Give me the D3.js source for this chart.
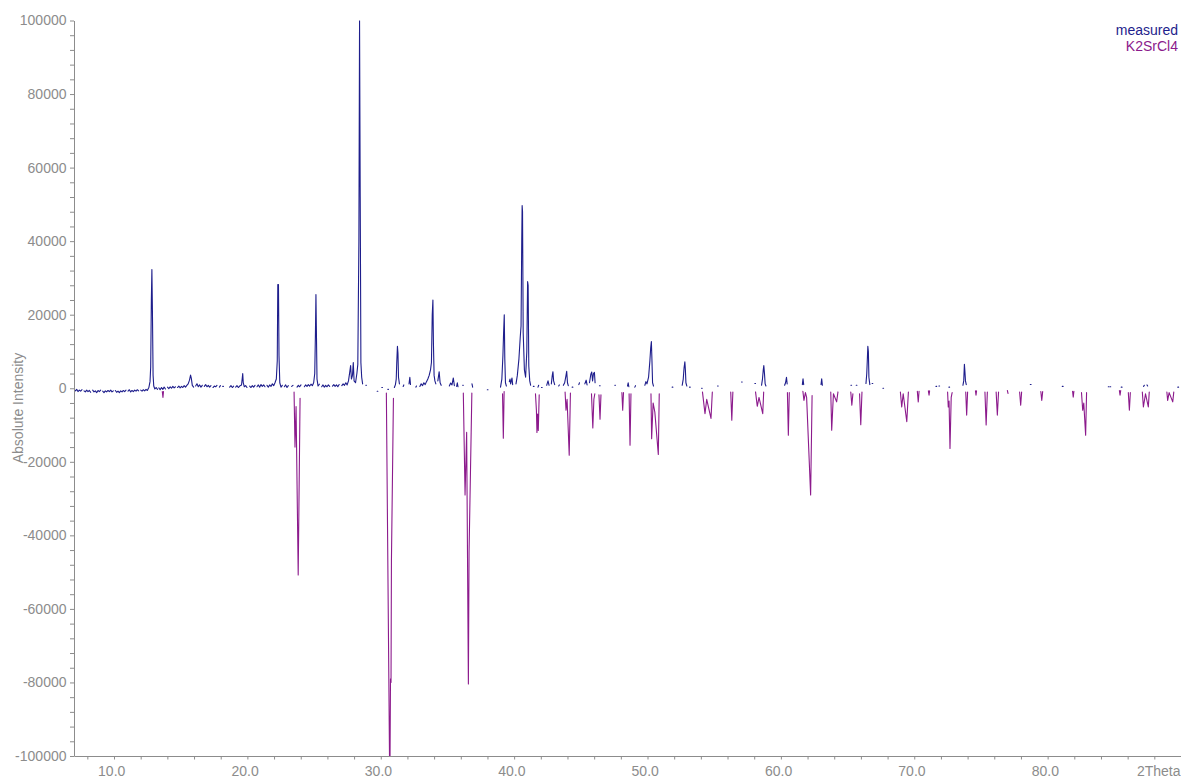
<!DOCTYPE html>
<html>
<head>
<meta charset="utf-8">
<script src="https://cdn.jsdelivr.net/npm/d3@7"></script>
<style>
  html, body { margin: 0; padding: 0; background: #ffffff; }
  svg { display: block; font-family: "Liberation Sans", Arial, sans-serif; }
</style>
</head>
<body>
<svg id="chart" width="1181" height="778"></svg>
<script>
// Powder pattern: measured scan (positive) and K2SrCl4 reference (drawn negative).
// Each series is a list of continuous runs of [2theta, intensity] points.

const seriesNames = ["measured", "K2SrCl4"];
const seriesColors = ["#1e1e8c", "#8c1a8c"];

const measuredRuns = [
  [[7.0,-400],[7.1,-700],[7.2,-300],[7.3,-900],[7.4,-500],[7.5,-800],[7.6,-400]],
  [[7.75,-700],[7.85,-1000],[7.95,-500],[8.05,-900],[8.15,-600],[8.25,-1100]],
  [[8.4,-500],[8.5,-1000],[8.6,-700],[8.7,-1200],[8.8,-600],[8.9,-900],[9.0,-500]],
  [[9.15,-800],[9.25,-1200],[9.35,-700],[9.45,-1000],[9.55,-600],[9.65,-900],[9.75,-500],[9.85,-1000],[9.95,-700]],
  [[10.1,-600],[10.2,-1100],[10.3,-800],[10.4,-1200],[10.5,-700],[10.6,-1000],[10.7,-600],[10.8,-900],[10.9,-500]],
  [[11.05,-800],[11.15,-400],[11.25,-1000],[11.35,-600],[11.45,-900],[11.55,-500],[11.65,-800],[11.75,-400],[11.85,-700]],
  [[12.0,-500],[12.1,-800],[12.2,-400],[12.3,-700],[12.4,-300],[12.5,-600],[12.62,300],[12.7,1800],[12.75,5800],[12.8,24000],[12.84,32300],[12.88,21000],[12.93,3500],[12.98,600],[13.06,-200],[13.16,200],[13.26,-300]],
  [[13.36,100],[13.46,-400],[13.56,200],[13.66,-300],[13.76,300],[13.86,-200]],
  [[14.01,300],[14.11,-100],[14.21,400],[14.31,0],[14.41,500],[14.51,100],[14.61,400]],
  [[14.76,200],[14.86,600],[14.96,100],[15.06,500],[15.16,200],[15.26,700],[15.36,300],[15.46,800],[15.56,1200],[15.66,2200],[15.74,3600],[15.8,2600],[15.87,800],[15.97,300]],
  [[16.12,600],[16.22,1200],[16.32,400],[16.42,900],[16.52,300],[16.62,800]],
  [[16.77,500],[16.87,1000],[16.97,400],[17.07,800],[17.17,300],[17.27,700]],
  [[17.42,200],[17.52,600],[17.62,400],[17.72,800]],
  [[17.9,300],[17.98,700]],
  [[18.15,500],[18.2,500]],
  [[18.67,300],[18.77,700],[18.87,200],[18.97,600]],
  [[19.12,300],[19.22,700],[19.32,200],[19.42,600],[19.56,900],[19.61,2600],[19.65,4000],[19.69,1500],[19.77,400],[19.87,700],[19.97,200]],
  [[20.17,600],[20.27,200],[20.37,700],[20.47,300],[20.57,800]],
  [[20.72,400],[20.82,900],[20.92,300],[21.02,1000],[21.12,500],[21.22,900],[21.32,400]],
  [[21.47,800],[21.57,300],[21.67,900],[21.77,500],[21.87,1200],[21.97,700],[22.07,1500],[22.17,2500],[22.24,7500],[22.28,28200],[22.33,28200],[22.37,9000],[22.43,1500],[22.52,300],[22.62,800]],
  [[22.77,400],[22.87,900],[22.97,200],[23.07,700]],
  [[23.32,500],[23.42,800]],
  [[23.72,300],[23.82,800],[23.92,400],[24.02,900]],
  [[24.27,400],[24.37,900],[24.47,500],[24.57,1000],[24.67,600],[24.77,1100],[24.87,700],[24.97,1500],[25.05,4000],[25.1,14500],[25.14,25500],[25.17,17000],[25.22,2500],[25.3,600],[25.4,1100]],
  [[25.57,400],[25.67,900],[25.77,300],[25.87,800],[25.97,400],[26.07,900],[26.17,500]],
  [[26.38,600],[26.48,1000],[26.58,500],[26.68,900],[26.78,400],[26.88,1000]],
  [[27.08,700],[27.18,1200],[27.28,800],[27.38,1500],[27.48,900],[27.58,2000],[27.68,4500],[27.74,6200],[27.8,2500],[27.88,3500],[27.94,7000],[28.0,2000],[28.11,1500],[28.21,4000],[28.28,6500],[28.36,40000],[28.41,100000],[28.46,52000],[28.51,7000],[28.57,3000],[28.64,1200]],
  [[28.88,800],[28.93,800]],
  [[29.73,-800],[29.78,-800]],
  [[30.08,200],[30.13,200]],
  [[30.53,-300],[30.58,-300]],
  [[31.02,200],[31.1,1000],[31.16,2500],[31.2,7000],[31.25,11400],[31.29,9500],[31.33,3000],[31.4,1200]],
  [[31.68,500],[31.73,900]],
  [[32.12,1200],[32.18,3000],[32.23,1000]],
  [[32.63,300],[32.68,600]],
  [[32.93,500],[33.03,1200],[33.13,700],[33.23,1500],[33.33,1000],[33.43,1800],[33.53,2500],[33.63,3500],[33.73,5000],[33.8,7000],[33.86,20000],[33.91,24000],[33.95,12000],[34.0,3500],[34.06,2000],[34.13,1200]],
  [[34.28,2000],[34.38,4500],[34.45,1500],[34.53,800]],
  [[35.14,600],[35.24,1400],[35.34,900],[35.44,2800],[35.52,700]],
  [[35.69,500],[35.74,1500],[35.79,400]],
  [[36.14,800],[36.19,800]],
  [[36.84,1200],[36.89,300]],
  [[37.99,-400],[38.04,-400]],
  [[38.98,300],[39.08,2500],[39.16,9000],[39.21,15000],[39.26,20000],[39.3,8000],[39.35,1500],[39.42,600]],
  [[39.64,1800],[39.69,2500],[39.74,1200],[39.84,2800],[39.89,1000]],
  [[40.14,1200],[40.24,3500],[40.36,8000],[40.46,14000],[40.52,17000],[40.57,40000],[40.6,49700],[40.63,48000],[40.68,15000],[40.77,5000],[40.86,3000],[40.95,10000],[41.01,29000],[41.05,28000],[41.1,6000],[41.17,2000],[41.24,800]],
  [[41.44,500],[41.49,500]],
  [[41.79,300],[41.84,800]],
  [[42.05,200],[42.1,200]],
  [[42.44,800],[42.54,2000],[42.62,800]],
  [[42.79,1200],[42.86,3500],[42.91,4500],[42.96,2000],[43.04,1000]],
  [[43.34,600],[43.39,900]],
  [[43.69,800],[43.79,1500],[43.89,3500],[43.94,4600],[44.0,1500],[44.06,700]],
  [[44.35,300],[44.4,300]],
  [[44.85,1000],[44.9,1500]],
  [[45.3,1200],[45.4,2200],[45.47,900]],
  [[45.65,1500],[45.75,3800],[45.82,4400],[45.88,2000],[45.95,4000],[46.02,4300],[46.07,1500]],
  [[46.4,700],[46.45,700]],
  [[47.55,800],[47.6,800]],
  [[48.5,600],[48.55,1500],[48.6,400]],
  [[49.05,300],[49.1,700]],
  [[49.8,800],[49.88,1800],[49.96,1200],[50.08,3000],[50.18,7500],[50.24,11000],[50.29,12700],[50.33,8000],[50.38,1500],[50.45,600]],
  [[51.85,300],[51.9,300]],
  [[52.6,800],[52.68,2500],[52.74,5500],[52.8,7200],[52.84,5000],[52.88,1500],[52.95,600]],
  [[53.15,300],[53.2,300]],
  [[54.05,0],[54.1,0]],
  [[55.25,600],[55.3,600]],
  [[57.05,1700],[57.1,1700]],
  [[58.05,1300],[58.1,1300]],
  [[58.55,800],[58.62,2500],[58.68,5000],[58.72,6200],[58.77,4000],[58.82,1200],[58.88,600]],
  [[60.28,800],[60.35,1500],[60.42,3000],[60.47,1200]],
  [[61.61,1000],[61.66,2600],[61.71,1000]],
  [[63.01,1000],[63.06,2600],[63.11,800]],
  [[65.25,800],[65.3,800]],
  [[65.65,800],[65.7,800]],
  [[66.38,1300],[66.44,4000],[66.48,7600],[66.52,11400],[66.56,10000],[66.6,3000],[66.67,1000]],
  [[66.84,1300],[66.89,1300]],
  [[67.65,0],[67.7,0]],
  [[71.63,500],[71.68,500]],
  [[71.85,600],[71.9,600]],
  [[72.6,300],[72.65,300]],
  [[73.65,800],[73.71,2000],[73.76,6500],[73.8,4500],[73.84,2000],[73.9,1000]],
  [[78.7,1000],[78.76,1000]],
  [[81.1,500],[81.16,500]],
  [[84.55,400],[84.6,400]],
  [[84.68,400],[84.73,400]],
  [[85.52,300],[85.58,300]],
  [[87.19,500],[87.25,800]],
  [[87.45,900],[87.5,600]],
  [[89.76,300],[89.82,300]]
];

const referenceRuns = [
  [[13.62,-900],[13.67,-2500],[13.71,-900]],
  [[23.5,-1000],[23.57,-16000],[23.65,-5000],[23.81,-50800],[23.95,-2700]],
  [[30.42,-1300],[30.68,-110000],[30.73,-79000],[30.77,-80000],[30.8,-47000],[30.95,-2700]],
  [[36.19,-1300],[36.32,-29000],[36.44,-12000],[36.57,-80400],[36.62,-44600],[36.83,-1300]],
  [[39.13,-1500],[39.19,-13600],[39.25,-900]],
  [[41.6,-1500],[41.67,-6000],[41.71,-12000],[41.76,-7000],[41.81,-11500],[41.88,-1800]],
  [[43.82,-1000],[43.89,-6000],[43.97,-3000],[44.13,-18200],[44.22,-1300]],
  [[45.8,-1500],[45.9,-10800],[45.98,-3000],[46.05,-1500]],
  [[46.36,-1800],[46.44,-8400],[46.51,-1800]],
  [[48.08,-1200],[48.14,-6000],[48.2,-1200]],
  [[48.62,-1500],[48.69,-15500],[48.76,-1500]],
  [[50.26,-1500],[50.31,-13700],[50.42,-4000],[50.55,-6500],[50.81,-18000],[50.88,-1500]],
  [[54.12,-1000],[54.31,-6900],[54.44,-3000],[54.76,-8200],[54.86,-1000]],
  [[56.24,-1000],[56.32,-8700],[56.4,-1000]],
  [[58.1,-1000],[58.23,-4900],[58.36,-2500],[58.64,-6900],[58.71,-1000]],
  [[60.49,-1200],[60.56,-12800],[60.63,-1200]],
  [[61.65,-800],[61.73,-3300],[61.84,-1200],[61.93,-2500],[62.23,-29000],[62.34,-2000]],
  [[63.74,-1000],[63.81,-11400],[63.94,-1500],[64.18,-3700],[64.28,-1000]],
  [[65.24,-1000],[65.32,-4600],[65.4,-1500]],
  [[65.9,-1500],[65.99,-9900],[66.08,-1000]],
  [[68.96,-1000],[69.06,-5100],[69.17,-1500],[69.44,-9100],[69.56,-1000]],
  [[70.23,-800],[70.3,-3700],[70.36,-800]],
  [[71.06,-700],[71.11,-1900],[71.15,-700]],
  [[72.5,-1000],[72.55,-5100],[72.61,-3500],[72.68,-16400],[72.77,-2500],[72.84,-1200]],
  [[73.86,-1000],[73.93,-7300],[74.0,-1000]],
  [[74.59,-700],[74.63,-1900],[74.67,-700]],
  [[75.3,-1000],[75.39,-10000],[75.48,-1000]],
  [[76.14,-1000],[76.23,-7300],[76.32,-1000]],
  [[76.98,-600],[77.03,-1400]],
  [[77.9,-1000],[77.98,-4600],[78.05,-1000]],
  [[79.49,-900],[79.56,-3300],[79.63,-900]],
  [[81.87,-800],[81.92,-2400],[81.97,-800]],
  [[82.54,-1200],[82.63,-6000],[82.71,-4000],[82.85,-12800],[82.92,-1200]],
  [[85.38,-600],[85.43,-1900],[85.48,-600]],
  [[86.05,-1200],[86.13,-6000],[86.2,-1200]],
  [[87.1,-1000],[87.18,-5100],[87.34,-1500],[87.55,-5100],[87.62,-1000]],
  [[88.94,-1000],[89.0,-3300],[89.11,-1200],[89.38,-3700],[89.46,-1000]]
];

const xDomain = [7, 90];
const yDomain = [-100000, 100000];
const xMinorTicks = d3.range(8, 90.01, 2);
const xLabelTicks = [10, 20, 30, 40, 50, 60, 70, 80];
const yMinorTicks = d3.range(-100000, 100001, 4000);
const xAxisTitle = "2Theta";
const yAxisTitle = "Absolute Intensity";

const svg = d3.select("#chart");
const plot = { left: 74, right: 1181, top: 20.5, bottom: 756 };
const axisColor = "#8c8c8c";

const x = d3.scaleLinear().domain(xDomain).range([plot.left, plot.right]);
const y = d3.scaleLinear().domain(yDomain).range([plot.bottom, plot.top]);

svg.append("defs").append("clipPath").attr("id", "plot-clip")
  .append("rect")
  .attr("x", plot.left).attr("y", plot.top)
  .attr("width", plot.right - plot.left).attr("height", plot.bottom - plot.top);

// Traces
const line = d3.line().x(d => x(d[0])).y(d => y(d[1]));
const traces = svg.append("g").attr("clip-path", "url(#plot-clip)");

[measuredRuns, referenceRuns].forEach((runs, i) => {
  traces.append("g")
    .selectAll("path")
    .data(runs)
    .join("path")
    .attr("d", line)
    .attr("fill", "none")
    .attr("stroke", seriesColors[i])
    .attr("stroke-width", 1.1)
    .attr("stroke-linejoin", "round")
    .attr("stroke-linecap", "round");
});

// Y axis
const yAxis = svg.append("g")
  .attr("transform", `translate(${plot.left},0)`)
  .call(d3.axisLeft(y)
    .tickValues(yMinorTicks)
    .tickSize(4)
    .tickSizeOuter(0)
    .tickFormat(d => (d % 20000 === 0 ? String(d) : "")));
yAxis.select(".domain").attr("stroke", axisColor);
yAxis.selectAll(".tick line").attr("stroke", axisColor);
yAxis.selectAll(".tick text")
  .attr("fill", axisColor)
  .attr("font-size", 14)
  .attr("font-family", "Liberation Sans, Arial, sans-serif")
  .attr("x", -7.5);

// X axis
const xAxis = svg.append("g")
  .attr("transform", `translate(0,${plot.bottom})`)
  .call(d3.axisBottom(x)
    .tickValues(xMinorTicks)
    .tickSize(3.5)
    .tickSizeOuter(0)
    .tickFormat(""));
xAxis.select(".domain").attr("stroke", axisColor);
xAxis.selectAll(".tick line").attr("stroke", axisColor);

svg.append("g")
  .selectAll("text")
  .data(xLabelTicks)
  .join("text")
  .attr("x", d => x(d) - 2.3)
  .attr("y", 775.5)
  .attr("text-anchor", "middle")
  .attr("fill", axisColor)
  .attr("font-size", 14)
  .text(d => d.toFixed(1));

svg.append("text")
  .attr("x", 1180.5)
  .attr("y", 775.5)
  .attr("text-anchor", "end")
  .attr("fill", axisColor)
  .attr("font-size", 14)
  .text(xAxisTitle);

svg.append("text")
  .attr("transform", `translate(23,408) rotate(-90)`)
  .attr("text-anchor", "middle")
  .attr("fill", axisColor)
  .attr("font-size", 14)
  .text(yAxisTitle);

// Legend
svg.append("g")
  .selectAll("text")
  .data(seriesNames)
  .join("text")
  .attr("x", 1178)
  .attr("y", (d, i) => 35 + i * 16)
  .attr("text-anchor", "end")
  .attr("font-size", 14)
  .attr("fill", (d, i) => seriesColors[i])
  .text(d => d);
</script>
</body>
</html>
